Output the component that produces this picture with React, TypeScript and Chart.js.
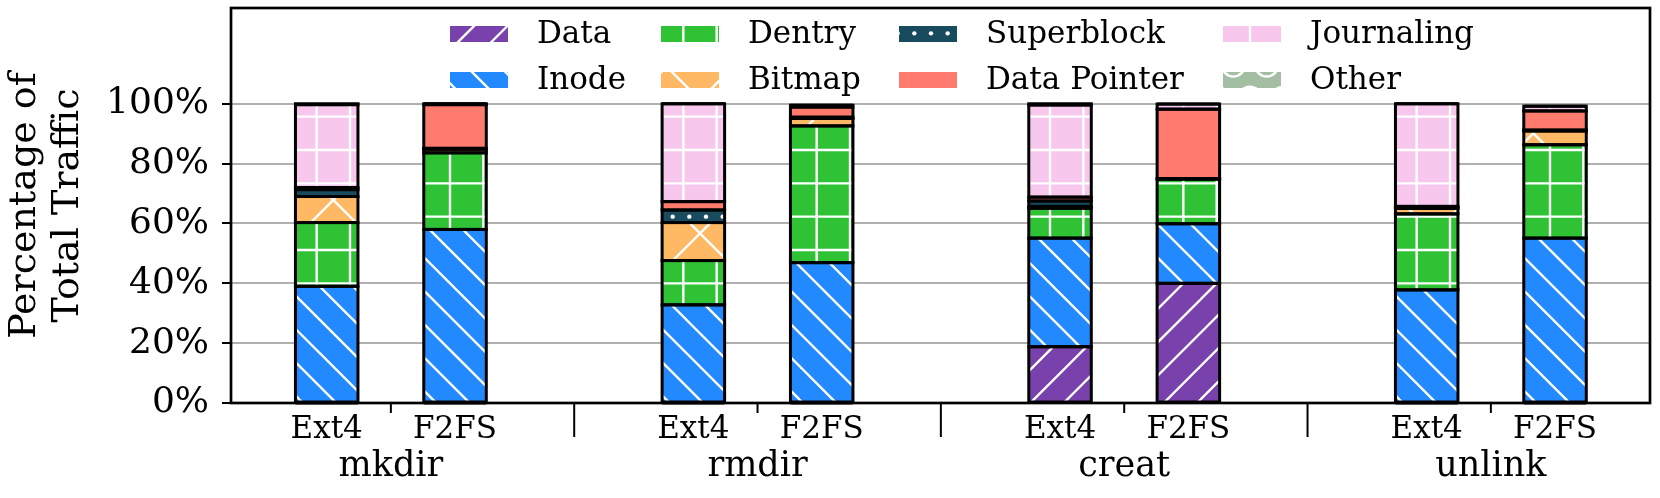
import React, { useEffect, useRef } from 'react';
import { Chart, registerables } from 'chart.js';

Chart.register(...registerables);

// ---------- data ----------
const categories = ['mkdir', 'rmdir', 'creat', 'unlink'];
const systems = ['Ext4', 'F2FS'];
const componentNames = ['Data', 'Inode', 'Dentry', 'Bitmap', 'Superblock', 'Data Pointer', 'Journaling', 'Other'];
// value order: mkdir-Ext4, mkdir-F2FS, rmdir-Ext4, rmdir-F2FS, creat-Ext4, creat-F2FS, unlink-Ext4, unlink-F2FS
const dataPct = [0, 0, 0, 0, 18.8, 40.0, 0, 0];
const inodePct = [39.0, 58.0, 32.8, 46.9, 36.3, 19.9, 37.8, 55.1];
const dentryPct = [21.3, 25.6, 14.8, 45.7, 10.0, 14.9, 25.4, 31.2];
const bitmapPct = [8.7, 1.2, 12.7, 2.5, 0.6, 0.2, 1.8, 4.6];
const superblockPct = [2.3, 0.3, 4.2, 0.4, 1.8, 0, 0.3, 0.3];
const dataPointerPct = [0.7, 14.6, 2.8, 3.4, 1.3, 23.2, 0.4, 6.4];
const journalingPct = [27.7, 0.3, 32.7, 0.6, 30.8, 1.7, 34.3, 1.6];
const otherPct = [0.3, 0, 0, 0, 0.4, 0, 0, 0];
const yTickValues = [0, 20, 40, 60, 80, 100];

const seriesValues = [dataPct, inodePct, dentryPct, bitmapPct, superblockPct, dataPointerPct, journalingPct, otherPct];

// ---------- style ----------
const colors = ['#7841AC', '#2389FF', '#2EC234', '#FFB964', '#194B5F', '#FF7B6E', '#F8C7EE', '#A3BEA3'];
const hatches = ['/', '\\', '+', 'x', 'dots', '', '+', 'O'];
const FONT = '"DejaVu Serif", serif';
const BAR_OFFSET = 0.175; // in group units, bars at group ± offset
const BAR_PX = 62.5;
const EDGE_LW = 3;
const HATCH_LW = 2.4;

function makePattern(kind: string, color: string): CanvasPattern | string {
  if (!kind) return color;
  const S = kind === 'x' ? 200 : 100;
  const c = document.createElement('canvas');
  c.width = S;
  c.height = S;
  const g = c.getContext('2d')!;
  g.fillStyle = color;
  g.fillRect(0, 0, S, S);
  g.strokeStyle = '#ffffff';
  g.fillStyle = '#ffffff';
  g.lineWidth = HATCH_LW;
  const step = S / 3;
  const line = (x1: number, y1: number, x2: number, y2: number) => {
    g.beginPath();
    g.moveTo(x1, y1);
    g.lineTo(x2, y2);
    g.stroke();
  };
  if (kind === '/' || kind === 'x') {
    for (let k = -1; k <= 7; k++) {
      const cc = k * step;
      line(cc + 10, -10, cc - S - 10, S + 10);
    }
  }
  if (kind === '\\' || kind === 'x') {
    for (let k = -4; k <= 4; k++) {
      const cc = k * step;
      line(cc - 10, -10, cc + S + 10, S + 10);
    }
  }
  if (kind === '+') {
    for (let k = 0; k < 3; k++) {
      const p = step / 2 + k * step;
      line(p, -1, p, S + 1);
      line(-1, p, S + 1, p);
    }
  }
  if (kind === 'dots') {
    const sp = S / 6;
    for (let j = -1; j <= 7; j++) {
      for (let i = -1; i <= 7; i++) {
        const cx = i * sp + 6 + (j % 2 !== 0 ? 0 : sp / 2);
        const cy = j * sp;
        g.beginPath();
        g.arc(cx, cy, 2.2, 0, Math.PI * 2);
        g.fill();
      }
    }
  }
  if (kind === 'O') {
    for (let j = -1; j <= 4; j++) {
      for (let i = -1; i <= 4; i++) {
        const cx = i * step + (j % 2 !== 0 ? step / 2 : 0);
        const cy = j * step - 1.7;
        g.beginPath();
        g.arc(cx, cy, 11.5, 0, Math.PI * 2);
        g.stroke();
      }
    }
  }
  const p = g.createPattern(c, 'repeat');
  return p || color;
}

const legendCols = [450, 661, 899, 1223];
const legendRows = [34, 80];

const overlayPlugin = {
  id: 'overlay',
  afterDatasetsDraw(chart: any) {
    const ctx = chart.ctx as CanvasRenderingContext2D;
    const area = chart.chartArea;
    ctx.save();
    // bar edges, centred on the patch outline
    ctx.strokeStyle = '#000';
    ctx.lineWidth = EDGE_LW;
    chart.data.datasets.forEach((_: any, di: number) => {
      const meta = chart.getDatasetMeta(di);
      meta.data.forEach((el: any) => {
        const { x, y, base, width } = el.getProps(['x', 'y', 'base', 'width'], true);
        const top = Math.min(y, base);
        const h = Math.abs(base - y);
        ctx.strokeRect(x - width / 2, top, width, h);
      });
    });
    // frame
    ctx.lineWidth = 2.7;
    ctx.strokeRect(area.left, area.top, area.right - area.left, area.bottom - area.top);

    // x labels
    const meta0 = chart.getDatasetMeta(0);
    const xs: number[] = meta0.data.map((el: any) => el.x);
    ctx.fillStyle = '#000';
    ctx.textAlign = 'center';
    ctx.textBaseline = 'alphabetic';
    ctx.font = `31px ${FONT}`;
    xs.forEach((x, j) => ctx.fillText(systems[j % 2], x, area.bottom + 35));
    ctx.font = `35px ${FONT}`;
    categories.forEach((c, gi) => {
      const cx = (xs[2 * gi] + xs[2 * gi + 1]) / 2;
      ctx.fillText(c, cx, area.bottom + 73);
    });
    // separator ticks
    ctx.lineWidth = 2;
    for (let j = 0; j < xs.length - 1; j++) {
      const mx = (xs[j] + xs[j + 1]) / 2;
      const len = j % 2 === 0 ? 10 : 34;
      ctx.beginPath();
      ctx.moveTo(mx, area.bottom);
      ctx.lineTo(mx, area.bottom + len);
      ctx.stroke();
    }

    // y title
    const cy = (area.top + area.bottom) / 2;
    ctx.font = `38px ${FONT}`;
    ctx.textBaseline = 'middle';
    ['Percentage of', 'Total Traffic'].forEach((t, i) => {
      ctx.save();
      ctx.translate(25 + i * 43, cy);
      ctx.rotate(-Math.PI / 2);
      ctx.fillText(t, 0, 0);
      ctx.restore();
    });

    // legend (column-major, 2 rows)
    ctx.font = `31px ${FONT}`;
    ctx.textAlign = 'left';
    chart.data.datasets.forEach((ds: any, i: number) => {
      const col = Math.floor(i / 2);
      const row = i % 2;
      const lx = legendCols[col];
      const ly = legendRows[row];
      ctx.fillStyle = ds.backgroundColor;
      ctx.fillRect(lx, ly - 8, 58, 16);
      ctx.fillStyle = '#000';
      ctx.fillText(ds.label, lx + 87, ly + 1);
    });
    ctx.restore();
  },
};

export default function App() {
  const ref = useRef<HTMLCanvasElement | null>(null);
  useEffect(() => {
    if (!ref.current) return;
    const datasets = componentNames.map((name, k) => ({
      label: name,
      data: seriesValues[k].map((v, j) => ({
        x: Math.floor(j / 2) + (j % 2 === 0 ? -BAR_OFFSET : BAR_OFFSET),
        y: v,
      })),
      backgroundColor: makePattern(hatches[k], colors[k]),
      borderWidth: 0,
      barThickness: BAR_PX,
    }));
    const chart = new Chart(ref.current, {
      type: 'bar',
      data: { datasets } as any,
      options: {
        animation: false,
        responsive: false,
        devicePixelRatio: 1,
        layout: { padding: { top: 8, right: 10, bottom: 95, left: 0 } },
        plugins: { legend: { display: false }, tooltip: { enabled: false } },
        events: [],
        scales: {
          x: {
            type: 'linear',
            min: -0.436,
            max: 3.434,
            offset: false,
            grid: { offset: false },
            stacked: true,
            display: false,
          },
          y: {
            type: 'linear',
            stacked: true,
            min: 0,
            max: 132,
            border: { display: false },
            grid: {
              color: '#b0b0b0',
              lineWidth: 2,
              tickColor: '#000',
              tickLength: 9,
              tickWidth: 2,
            },
            ticks: {
              color: '#000',
              font: { family: FONT, size: 36 },
              padding: 13,
              callback: (v: any) => `${v}%`,
            },
            afterBuildTicks: (scale: any) => {
              scale.ticks = yTickValues.map((v) => ({ value: v }));
            },
            afterFit: (scale: any) => {
              scale.width = 231;
              scale.paddingTop = 0;
              scale.paddingBottom = 0;
            },
          },
        },
      } as any,
      plugins: [overlayPlugin],
    });
    return () => chart.destroy();
  }, []);
  return (
    <div style={{ position: 'absolute', left: 0, top: 0, width: 1660, height: 498, background: '#fff' }}>
      <canvas ref={ref} width={1660} height={498} style={{ display: 'block' }} />
    </div>
  );
}
